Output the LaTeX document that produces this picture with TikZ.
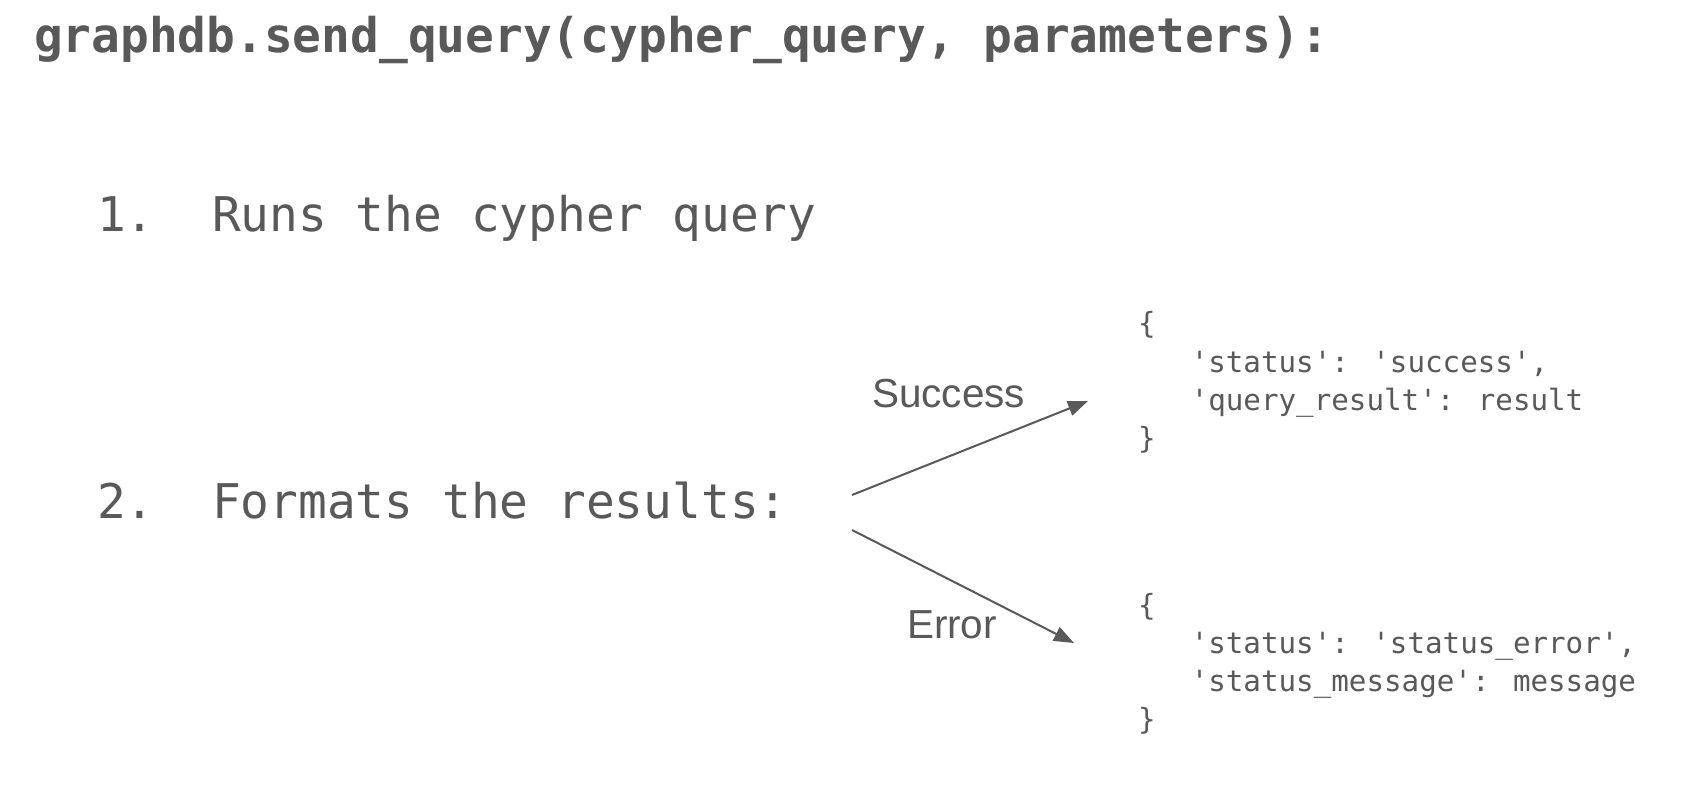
\documentclass[tikz,border=0pt]{standalone}
\usepackage{fontspec}
\setmainfont{Liberation Sans}
\newfontfamily\codefont{DejaVu Sans Mono}[Ligatures=TeXOff]
\usetikzlibrary{arrows.meta}
\definecolor{ink}{HTML}{595959}
\tikzset{
  txt/.style={anchor=base west, inner sep=0pt, outer sep=0pt, text=ink},
  title/.style={txt, font=\codefont\bfseries\fontsize{47.8}{57}\selectfont},
  item/.style={txt, font=\codefont\fontsize{47.8}{57}\selectfont},
  json/.style={txt, font=\codefont\fontsize{29.2}{35}\selectfont},
  lbl/.style={txt, font=\fontsize{40.5}{48}\selectfont},
  conn/.style={draw=ink, line width=2pt, -{Triangle[length=20pt,width=15pt]}}
}
\begin{document}
\begin{tikzpicture}[x=1pt,y=-1pt]
\useasboundingbox[fill=white] (0,0) rectangle (1705,786);
\node[title] (t) at (34,53) {graphdb.send\_query(cypher\_query, parameters):};
\node[item] (i1) at (97,232) {1.\ \ Runs the cypher query};
\node[item] (i2) at (97,518) {2.\ \ Formats the results:};
% success block
\node[json] (a0) at (1138,334) {\{};
\node[json] (a1) at (1138,372) {\ \ \ 'status': 'success',};
\node[json] (a2) at (1138,410) {\ \ \ 'query\_result': result};
\node[json] (a3) at (1138,448) {\}};
% error block
\node[json] (b0) at (1138,615) {\{};
\node[json] (b1) at (1138,653) {\ \ \ 'status': 'status\_error',};
\node[json] (b2) at (1138,691) {\ \ \ 'status\_message': message};
\node[json] (b3) at (1138,729) {\}};
% labels
\node[lbl] (ls) at (872,407) {Success};
\node[lbl] (le) at (907,638) {Error};
% connectors
\coordinate (s0) at (852,495);
\coordinate (s1) at (1088,401);
\coordinate (e0) at (852,530);
\coordinate (e1) at (1074,643);
\draw[conn] (s0) -- (s1);
\draw[conn] (e0) -- (e1);
\end{tikzpicture}
\end{document}
